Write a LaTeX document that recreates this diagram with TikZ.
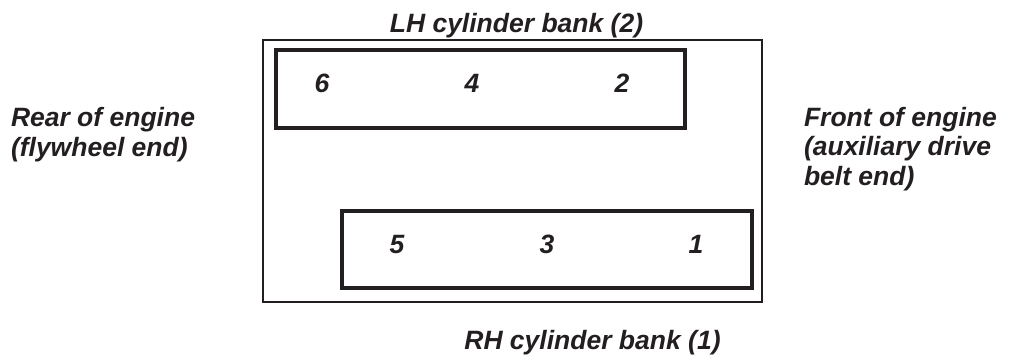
\documentclass[tikz,border=0pt]{standalone}
\usepackage{fontspec}
\setmainfont{Liberation Sans}
\definecolor{ink}{HTML}{231F20}
\begin{document}
\begin{tikzpicture}[x=1pt,y=-1pt,
  lbl/.style={inner sep=0pt,outer sep=0pt,text=ink,font=\fontsize{26.5}{29.5}\selectfont\bfseries\itshape},
  frame/.style={draw=ink,line width=2pt,inner sep=0pt,outer sep=0pt},
  bank/.style={draw=ink,line width=4.5pt,inner sep=0pt,outer sep=0pt}]
\useasboundingbox (0,0) rectangle (1010,363);
\node[frame,minimum width=499pt,minimum height=262pt] (outer) at (512.5,171) {};
\node[bank,minimum width=409pt,minimum height=78pt] (lhbank) at (480.5,89) {};
\node[bank,minimum width=410pt,minimum height=77pt] (rhbank) at (547,249.5) {};
\node[lbl,anchor=base] (lhtitle) at (516.5,33) {LH cylinder bank (2)};
\node[lbl,anchor=base] (rhtitle) at (592.5,350) {RH cylinder bank (1)};
\node[lbl,anchor=base] (c6) at (322,93) {6};
\node[lbl,anchor=base] (c4) at (472,93) {4};
\node[lbl,anchor=base] (c2) at (622,93) {2};
\node[lbl,anchor=base] (c5) at (397,254) {5};
\node[lbl,anchor=base] (c3) at (547,254) {3};
\node[lbl,anchor=base] (c1) at (696,254) {1};
\node[lbl,anchor=base west,align=left] (rear) at (11,156.5) {Rear of engine\\(flywheel end)};
\node[lbl,anchor=base west,align=left] (front) at (804,185.5) {Front of engine\\(auxiliary drive\\belt end)};
\end{tikzpicture}
\end{document}
